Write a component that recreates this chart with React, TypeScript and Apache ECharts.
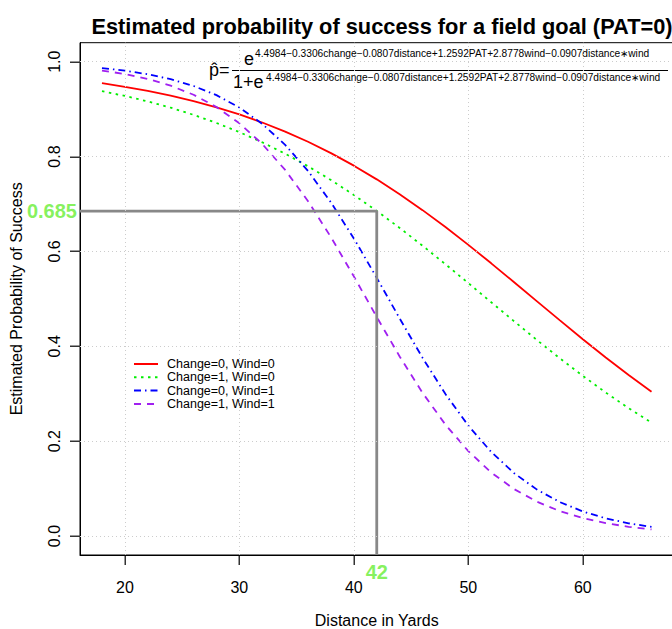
import React, { useEffect, useRef } from "react";
import * as echarts from "echarts";

const distance = [18, 20, 22, 24, 26, 28, 30, 32, 34, 36, 38, 40, 42, 44, 46, 48, 50, 52, 54, 56, 58, 60, 62, 64, 66];
const change0Wind0 = [0.9546, 0.9471, 0.9384, 0.9284, 0.9168, 0.9037, 0.8887, 0.8717, 0.8525, 0.8311, 0.8072, 0.7808, 0.7519, 0.7206, 0.687, 0.6513, 0.6138, 0.5749, 0.5351, 0.4948, 0.4546, 0.4149, 0.3764, 0.3393, 0.3041];
const change1Wind0 = [0.9379, 0.9278, 0.9162, 0.903, 0.8879, 0.8708, 0.8515, 0.83, 0.806, 0.7795, 0.7505, 0.719, 0.6853, 0.6495, 0.612, 0.573, 0.5332, 0.4928, 0.4527, 0.413, 0.3745, 0.3376, 0.3025, 0.2695, 0.239];
const change0Wind1 = [0.9865, 0.9811, 0.9735, 0.9631, 0.9488, 0.9294, 0.9033, 0.8689, 0.8247, 0.7696, 0.7033, 0.6273, 0.5443, 0.4588, 0.3757, 0.2993, 0.2327, 0.1771, 0.1325, 0.0978, 0.0715, 0.0518, 0.0373, 0.0268, 0.0192];
const change1Wind1 = [0.9813, 0.9739, 0.9636, 0.9494, 0.9302, 0.9044, 0.8703, 0.8265, 0.7717, 0.7059, 0.6301, 0.5473, 0.4618, 0.3786, 0.3019, 0.2348, 0.1789, 0.1339, 0.0989, 0.0723, 0.0524, 0.0378, 0.0271, 0.0194, 0.0138];

const seriesNames = ["Change=0, Wind=0", "Change=1, Wind=0", "Change=0, Wind=1", "Change=1, Wind=1"];
const xTicks = [20, 30, 40, 50, 60];
const yTicks = [0, 0.2, 0.4, 0.6, 0.8, 1.0];
const xRange = [16.08, 67.92];
const yRange = [-0.04, 1.04];
const refDistance = 42;
const refProb = 0.685;

const exponent = "4.4984\u22120.3306change\u22120.0807distance+1.2592PAT+2.8778wind\u22120.0907distance\u2217wind";

const FONT = "'Liberation Sans', Arial, Helvetica, sans-serif";

const W = 672;
const H = 629;
const GRID = { left: 80, top: 42.7, right: -1.5, bottom: 74 };

export default function App() {
  const ref = useRef<HTMLDivElement>(null);
  useEffect(() => {
    const chart = echarts.init(ref.current!, null, { renderer: "svg" });
    const zip = (ys: number[]) => distance.map((d, i) => [d, ys[i]]);
    const curveStyles = [
      { color: "#FF0000", type: "solid" as any },
      { color: "#00EE00", type: [2.5, 4.5] as any },
      { color: "#0000FF", type: [7, 4, 1.5, 4] as any },
      { color: "#A020F0", type: [7, 6] as any },
    ];
    const curves = [change0Wind0, change1Wind0, change0Wind1, change1Wind1].map((ys, i) => ({
      name: seriesNames[i],
      type: "line",
      data: zip(ys),
      symbol: "none",
      showSymbol: false,
      z: 3,
      color: curveStyles[i].color,
      lineStyle: { color: curveStyles[i].color, width: 1.8, type: curveStyles[i].type },
      clip: false,
    }));

    // axis tick marks (outside the plot box, as in R), mapped with the grid's linear scale
    const gx0 = GRID.left;
    const gx1 = W - GRID.right;
    const gy0 = GRID.top;
    const gy1 = H - GRID.bottom;
    const xPix = (v: number) => gx0 + ((v - xRange[0]) / (xRange[1] - xRange[0])) * (gx1 - gx0);
    const yPix = (v: number) => gy1 - ((v - yRange[0]) / (yRange[1] - yRange[0])) * (gy1 - gy0);
    const TICK = 10;
    const tickGraphics: any[] = [
      ...xTicks.map((v) => ({
        type: "rect",
        silent: true,
        shape: { x: Math.round(xPix(v)) - 0.5, y: gy1, width: 1.5, height: TICK },
        style: { fill: "#333333", stroke: "none" },
      })),
      ...yTicks.map((v) => ({
        type: "rect",
        silent: true,
        shape: { x: gx0 - TICK, y: Math.round(yPix(v)) - 0.5, width: TICK, height: 1.5 },
        style: { fill: "#333333", stroke: "none" },
      })),
    ];

    const formulaGraphics: any[] = [
      {
        type: "text",
        x: 209,
        y: 69.5,
        style: { text: "p\u0302=", fontSize: 18, fontFamily: FONT, fill: "#000", align: "left", verticalAlign: "middle" },
      },
      {
        type: "line",
        shape: { x1: 232, y1: 70.5, x2: 668, y2: 70.5 },
        style: { stroke: "#000", lineWidth: 1 },
      },
      {
        type: "text",
        x: 244,
        y: 58.5,
        style: { text: "e", fontSize: 18, fontFamily: FONT, fill: "#000", align: "left", verticalAlign: "middle" },
      },
      {
        type: "text",
        x: 255,
        y: 53,
        style: { text: exponent, fontSize: 10.2, fontFamily: FONT, fill: "#000", align: "left", verticalAlign: "middle" },
      },
      {
        type: "text",
        x: 233,
        y: 81.5,
        style: { text: "1+e", fontSize: 18, fontFamily: FONT, fill: "#000", align: "left", verticalAlign: "middle" },
      },
      {
        type: "text",
        x: 266,
        y: 77.5,
        style: { text: exponent, fontSize: 10.2, fontFamily: FONT, fill: "#000", align: "left", verticalAlign: "middle" },
      },
    ];
    const option: any = {
      animation: false,
      backgroundColor: "#ffffff",
      textStyle: { fontFamily: FONT },
      title: {
        text: "Estimated probability of success for a field goal (PAT=0)",
        left: 377,
        textAlign: "center",
        top: 10,
        textStyle: { fontFamily: FONT, fontSize: 21.8, fontWeight: "bold", color: "#000" },
      },
      grid: {
        left: GRID.left,
        top: GRID.top,
        right: GRID.right,
        bottom: GRID.bottom,
        show: true,
        borderColor: "#000",
        borderWidth: 1,
        backgroundColor: "transparent",
        containLabel: false,
        outerBoundsMode: "none",
      },
      legend: {
        data: seriesNames,
        orient: "vertical",
        left: 133,
        top: 357.5,
        padding: 0,
        itemWidth: 24,
        itemHeight: 10,
        itemGap: 0.3,
        itemStyle: { opacity: 0 },
        textStyle: { fontFamily: FONT, fontSize: 12.5, lineHeight: 13, color: "#000", padding: [0, 0, 0, 4] },
      },
      xAxis: {
        type: "value",
        min: xRange[0],
        max: xRange[1],
        name: "Distance in Yards",
        nameLocation: "middle",
        nameGap: 57,
        nameMoveOverlap: false,
        nameTextStyle: { fontFamily: FONT, fontSize: 16, color: "#000" },
        axisLine: { show: true, onZero: false, lineStyle: { color: "#000", width: 1 } },
        axisTick: { show: false },
        axisLabel: { customValues: xTicks, margin: 24, fontSize: 16, color: "#000", fontFamily: FONT },
        splitLine: { show: false },
      },
      yAxis: {
        type: "value",
        min: yRange[0],
        max: yRange[1],
        name: "Estimated Probability of Success",
        nameLocation: "middle",
        nameGap: 56,
        nameMoveOverlap: false,
        nameTextStyle: { fontFamily: FONT, fontSize: 16, color: "#000" },
        axisLine: { show: true, onZero: false, lineStyle: { color: "#000", width: 1 } },
        axisTick: { show: false },
        axisLabel: {
          customValues: yTicks,
          rotate: 90,
          margin: 18,
          fontSize: 16,
          color: "#000",
          fontFamily: FONT,
          formatter: (v: number) => v.toFixed(1),
        },
        splitLine: { show: false },
      },
      graphic: [...formulaGraphics, ...tickGraphics],
      series: [
        {
          name: "grid",
          type: "line",
          data: [[xRange[0], yRange[0]]],
          symbol: "none",
          lineStyle: { opacity: 0 },
          z: 1,
          silent: true,
          markLine: {
            silent: true,
            symbol: ["none", "none"],
            label: { show: false },
            lineStyle: { color: "#cccccc", width: 1, type: [1, 3] },
            data: [...xTicks.map((v) => ({ xAxis: v })), ...yTicks.map((v) => ({ yAxis: v }))],
          },
        },
        ...curves,
        {
          name: "reference",
          type: "line",
          data: [
            [xRange[0], refProb],
            [refDistance, refProb],
            [refDistance, yRange[0]],
          ],
          symbol: "none",
          z: 4,
          clip: false,
          lineStyle: { color: "#888888", width: 2.8 },
        },
        {
          name: "refLabels",
          type: "scatter",
          symbolSize: 0,
          z: 5,
          clip: false,
          data: [
            { value: [xRange[0], refProb], label: { position: "left", distance: 3, formatter: String(refProb) } },
            { value: [refDistance, yRange[0]], label: { position: "bottom", distance: 7, formatter: String(refDistance) } },
          ],
          label: { show: true, color: "#66EE33", fontWeight: "bold", fontSize: 20, fontFamily: FONT },
        },
      ],
    };
    chart.setOption(option);
    return () => chart.dispose();
  }, []);
  return <div ref={ref} style={{ position: "absolute", left: 0, top: 0, width: W, height: H }} />;
}
